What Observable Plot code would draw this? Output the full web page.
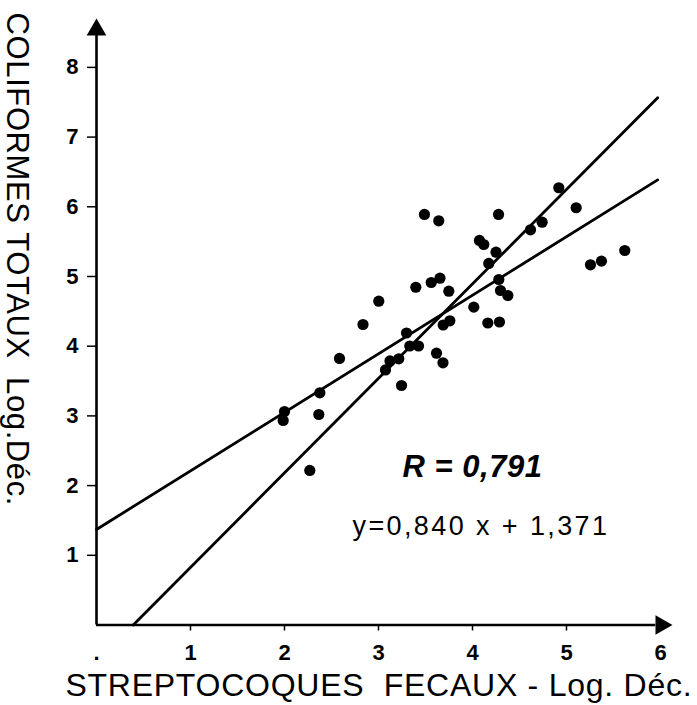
<!DOCTYPE html>
<html>
<head>
<meta charset="utf-8">
<script src="https://cdn.jsdelivr.net/npm/d3@7"></script>
<script src="https://cdn.jsdelivr.net/npm/@observablehq/plot@0.6"></script>
<style>
  body { margin: 0; background: #fff; }
  #chart svg { display: block; }
</style>
</head>
<body>
<div id="chart"></div>
<script>
// Streptocoques fécaux (log) — x values
const strepto = [1.986, 2.000, 2.269, 2.365, 2.376, 2.585, 2.835, 3.003, 3.074, 3.122,
  3.216, 3.245, 3.298, 3.333, 3.426, 3.397, 3.489, 3.641, 3.561, 3.654,
  3.617, 3.686, 3.688, 3.759, 3.748, 4.014, 4.074, 4.120, 4.163, 4.287,
  4.173, 4.250, 4.277, 4.280, 4.298, 4.376, 4.617, 4.741, 4.918, 5.103,
  5.255, 5.372, 5.620];
// Coliformes totaux (log) — y values
const coliformes = [2.934, 3.063, 2.217, 3.020, 3.331, 3.824, 4.311, 4.646, 3.659, 3.788,
  3.819, 3.436, 4.189, 4.003, 4.003, 4.846, 5.890, 5.799, 4.914, 4.976,
  3.900, 3.762, 4.304, 4.364, 4.789, 4.560, 5.517, 5.459, 4.333, 4.347,
  5.187, 5.349, 5.890, 4.957, 4.799, 4.727, 5.670, 5.779, 6.273, 5.986,
  5.168, 5.220, 5.373];

const xTicks = [0, 1, 2, 3, 4, 5, 6];
const xTickLabels = [".", "1", "2", "3", "4", "5", "6"];
const yTicks = [1, 2, 3, 4, 5, 6, 7, 8];
const yTickLabels = ["1", "2", "3", "4", "5", "6", "7", "8"];

// regression y on x (printed) and x on y (steeper)
const fit1 = {slope: 0.840, intercept: 1.371};
const fit2 = {slope: 1.356, intercept: -0.53};
const lineEndX = 5.97;

const xTitle = "STREPTOCOQUES  FECAUX - Log. Déc.";
const yTitle = "COLIFORMES TOTAUX  Log.Déc.";
const rText = "R = 0,791";
const eqText = "y=0,840 x + 1,371";
const rPos = {x: 4.0, y: 2.27};
const eqPos = {x: 4.09, y: 1.41};

const points = strepto.map((x, i) => ({x, y: coliformes[i]}));
const line1 = [0, lineEndX].map(x => ({x, y: fit1.intercept + fit1.slope * x}));
const line2 = [-fit2.intercept / fit2.slope, lineEndX].map(x => ({x, y: fit2.intercept + fit2.slope * x}));

const chart = Plot.plot({
  width: 697,
  height: 705,
  marginLeft: 96,
  marginRight: 18.2,
  marginTop: 18.1,
  marginBottom: 80.5,
  style: {fontFamily: "'Liberation Sans', Arial, sans-serif", color: "black", background: "white"},
  x: {domain: [0, 6.2]},
  y: {domain: [0, 8.7]},
  marks: [
    // axis lines
    Plot.ruleY([0], {x1: 0, x2: 5.95, stroke: "black", strokeWidth: 2.6}),
    Plot.ruleX([0], {y1: 0, y2: 8.5, stroke: "black", strokeWidth: 2.6}),
    // arrowheads
    Plot.dot([{x: 0, y: 8.54}], {x: "x", y: "y", symbol: "triangle", r: 7.3, fill: "black", stroke: "none"}),
    Plot.dot([{x: 6.007, y: 0}], {x: "x", y: "y", symbol: "triangle", r: 7.3, rotate: 90, fill: "black", stroke: "none"}),
    // tick marks (labels drawn separately)
    Plot.axisX({ticks: xTicks.filter(d => d > 0), tickSize: 6, tickFormat: () => "", strokeWidth: 1.5, label: null}),
    Plot.axisY({ticks: yTicks, tickSize: 9, tickFormat: () => "", strokeWidth: 1.5, label: null}),
    // tick labels
    Plot.text(xTicks, {x: d => d, frameAnchor: "bottom", lineAnchor: "top", dy: 19,
      text: (d, i) => xTickLabels[i], fontSize: 22, fontWeight: "bold"}),
    Plot.text(yTicks, {y: d => d, frameAnchor: "left", textAnchor: "end", dx: -18,
      text: (d, i) => yTickLabels[i], fontSize: 22, fontWeight: "bold"}),
    // regression lines
    Plot.line(line1, {x: "x", y: "y", stroke: "black", strokeWidth: 2.8}),
    Plot.line(line2, {x: "x", y: "y", stroke: "black", strokeWidth: 2.8}),
    // data points
    Plot.dot(points, {x: "x", y: "y", r: 5.6, fill: "black", stroke: "none"}),
    // annotations
    Plot.text([rText], {x: () => rPos.x, y: () => rPos.y, text: d => d, fontSize: 31, fontWeight: "bold", fontStyle: "italic"}),
    Plot.text([eqText], {x: () => eqPos.x, y: () => eqPos.y, text: d => d, fontSize: 27}),
    // axis titles
    Plot.text([xTitle], {frameAnchor: "bottom", text: d => d, dx: -9, dy: 71, fontSize: 32}),
    Plot.text([yTitle], {frameAnchor: "top-left", text: d => d, rotate: 90, textAnchor: "start", dx: -67, dy: -6, fontSize: 31})
  ]
});
// letter spacing adjustments
const spacing = new Map([[xTitle, "0.75px"], [yTitle, "0.6px"], [eqText, "2.4px"], [rText, "0.5px"]]);
d3.select(chart).selectAll("text").each(function() {
  const t = this.textContent;
  if (spacing.has(t)) d3.select(this).style("letter-spacing", spacing.get(t));
});
document.getElementById("chart").appendChild(chart);
</script>
</body>
</html>
